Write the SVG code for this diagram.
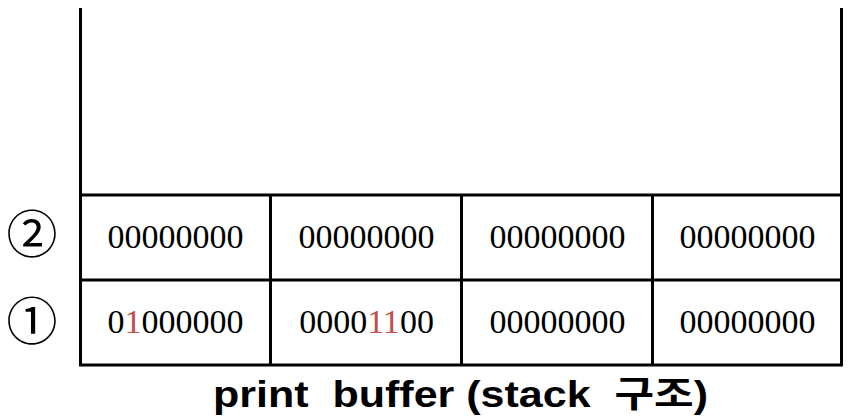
<svg xmlns="http://www.w3.org/2000/svg" width="849" height="420" viewBox="0 0 849 420">
  <style>
    .frame { fill: none; stroke: #000; stroke-width: 3; }
    .bits { font-family: "Liberation Serif", "Times New Roman", serif; font-size: 34px; fill: #000; text-anchor: middle; }
    .hi { fill: #c0504d; }
    .idx { font-family: "DejaVu Serif", "Noto Sans CJK KR", serif; font-size: 51px; fill: #000; text-anchor: middle; }
    .title { font-family: "Liberation Sans", "Noto Sans CJK KR", sans-serif; font-size: 36px; font-weight: bold; fill: #000; }
  </style>
  <rect width="849" height="420" fill="#fff"/>

  <!-- open-top container of the stack -->
  <g id="container">
    <path class="frame" d="M80.5,8 V365 H841.5 V8"/>
  </g>

  <!-- row dividers and column dividers -->
  <g id="grid">
    <line class="frame" x1="79" y1="195" x2="843" y2="195"/>
    <line class="frame" x1="79" y1="280" x2="843" y2="280"/>
    <line class="frame" x1="270.5" y1="195" x2="270.5" y2="365"/>
    <line class="frame" x1="461.5" y1="195" x2="461.5" y2="365"/>
    <line class="frame" x1="652.5" y1="195" x2="652.5" y2="365"/>
  </g>

  <!-- row labels -->
  <g id="label-2"><text class="idx" x="32" y="252.5">②</text></g>
  <g id="label-1"><text class="idx" x="32" y="339.5">①</text></g>

  <!-- upper row: all bytes cleared -->
  <g id="row-2">
    <text class="bits" x="175.5" y="248">00000000</text>
    <text class="bits" x="366.5" y="248">00000000</text>
    <text class="bits" x="557.5" y="248">00000000</text>
    <text class="bits" x="747.5" y="248">00000000</text>
  </g>

  <!-- lower row: set bits highlighted -->
  <g id="row-1">
    <text class="bits" x="175.5" y="333">0<tspan class="hi">1</tspan>000000</text>
    <text class="bits" x="366.5" y="333">0000<tspan class="hi">11</tspan>00</text>
    <text class="bits" x="557.5" y="333">00000000</text>
    <text class="bits" x="747.5" y="333">00000000</text>
  </g>

  <g id="caption"><text class="title" x="213" y="407" textLength="495" lengthAdjust="spacingAndGlyphs" xml:space="preserve">print  buffer (stack  구조)</text></g>
</svg>
